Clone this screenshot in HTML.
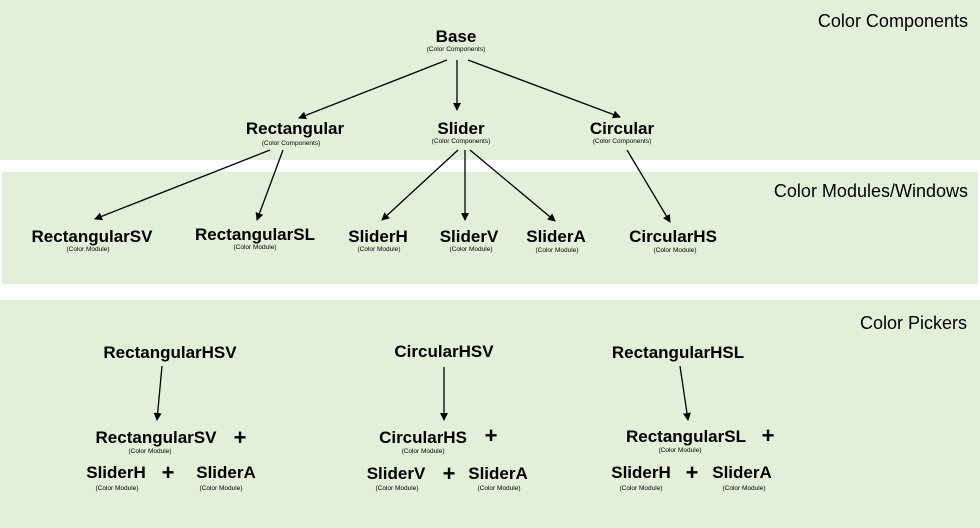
<!DOCTYPE html>
<html><head><meta charset="utf-8"><style>
html,body{margin:0;padding:0;background:#fff;}
svg{display:block;}
text{font-family:"Liberation Sans",sans-serif;fill:#000;}
.b{font-weight:bold;font-size:17px;text-anchor:middle;}
.s{font-size:6.5px;text-anchor:middle;}
.t{font-size:18px;text-anchor:end;}
.p{font-weight:bold;font-size:22px;text-anchor:middle;}
line{stroke:#000;stroke-width:1.3;marker-end:url(#a);}
</style></head><body>
<svg width="980" height="528" viewBox="0 0 980 528">
<defs><marker id="a" markerWidth="8" markerHeight="8" refX="7" refY="4" orient="auto" markerUnits="userSpaceOnUse"><path d="M0,0 L8,4 L0,8 z" fill="#000"/></marker></defs>
<rect x="0" y="0" width="980" height="160" fill="#e2efd9"/>
<rect x="2" y="172" width="976" height="112" fill="#e2efd9"/>
<rect x="0" y="300" width="980" height="228" fill="#e2efd9"/>
<text class="t" x="968" y="27">Color Components</text>
<text class="t" x="968" y="197">Color Modules/Windows</text>
<text class="t" x="967" y="329">Color Pickers</text>

<text class="b" x="456" y="42">Base</text><text class="s" x="456" y="51">(Color Components)</text>
<text class="b" x="295" y="134">Rectangular</text><text class="s" x="291" y="145">(Color Components)</text>
<text class="b" x="461" y="134">Slider</text><text class="s" x="461" y="143">(Color Components)</text>
<text class="b" x="622" y="134">Circular</text><text class="s" x="622" y="143">(Color Components)</text>

<line x1="447" y1="60" x2="299" y2="118"/>
<line x1="457" y1="60" x2="457" y2="110"/>
<line x1="468" y1="60" x2="620" y2="117"/>
<line x1="270" y1="150" x2="95" y2="219"/>
<line x1="283" y1="150" x2="257" y2="220"/>
<line x1="458" y1="150" x2="382" y2="220"/>
<line x1="465" y1="150" x2="465" y2="220"/>
<line x1="470" y1="150" x2="555" y2="221"/>
<line x1="627" y1="150" x2="670" y2="222"/>

<text class="b" x="92" y="242">RectangularSV</text><text class="s" x="88" y="251">(Color Module)</text>
<text class="b" x="255" y="240">RectangularSL</text><text class="s" x="255" y="249">(Color Module)</text>
<text class="b" x="378" y="242">SliderH</text><text class="s" x="379" y="251">(Color Module)</text>
<text class="b" x="469" y="242">SliderV</text><text class="s" x="471" y="251">(Color Module)</text>
<text class="b" x="556" y="242">SliderA</text><text class="s" x="557" y="252">(Color Module)</text>
<text class="b" x="673" y="242">CircularHS</text><text class="s" x="675" y="252">(Color Module)</text>

<text class="b" x="170" y="358">RectangularHSV</text>
<text class="b" x="444" y="357">CircularHSV</text>
<text class="b" x="678" y="358">RectangularHSL</text>
<line x1="162" y1="366" x2="157" y2="420"/>
<line x1="444" y1="367" x2="444" y2="420"/>
<line x1="680" y1="366" x2="688" y2="420"/>

<text class="b" x="156" y="443">RectangularSV</text><text class="s" x="150" y="453">(Color Module)</text><text class="p" x="240" y="445">+</text>
<text class="b" x="423" y="443">CircularHS</text><text class="s" x="423" y="453">(Color Module)</text><text class="p" x="491" y="443">+</text>
<text class="b" x="686" y="442">RectangularSL</text><text class="s" x="680" y="452">(Color Module)</text><text class="p" x="768" y="443">+</text>

<text class="b" x="116" y="478">SliderH</text><text class="s" x="117" y="490">(Color Module)</text><text class="p" x="168" y="480">+</text>
<text class="b" x="226" y="478">SliderA</text><text class="s" x="221" y="490">(Color Module)</text>
<text class="b" x="396" y="479">SliderV</text><text class="s" x="397" y="490">(Color Module)</text><text class="p" x="449" y="481">+</text>
<text class="b" x="498" y="479">SliderA</text><text class="s" x="499" y="490">(Color Module)</text>
<text class="b" x="641" y="478">SliderH</text><text class="s" x="641" y="490">(Color Module)</text><text class="p" x="692" y="480">+</text>
<text class="b" x="742" y="478">SliderA</text><text class="s" x="744" y="490">(Color Module)</text>
</svg>
</body></html>
